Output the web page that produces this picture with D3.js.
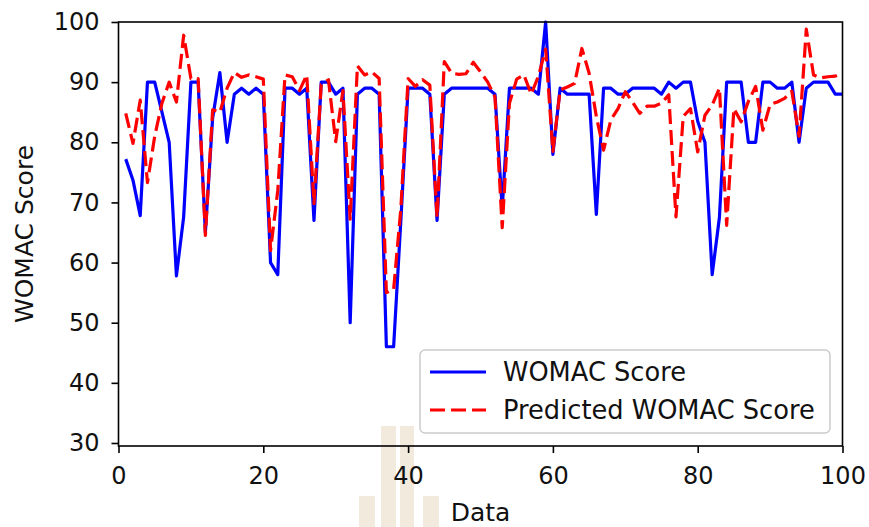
<!DOCTYPE html>
<html><head><meta charset="utf-8">
<script src="https://cdn.jsdelivr.net/npm/d3@7"></script>
<style>body{margin:0;background:#fff} svg{display:block}</style>
</head><body><svg id="chart" width="869" height="527"></svg>
<script>
// ---- data ----
const xTicks = [0, 20, 40, 60, 80, 100];
const yTicks = [30, 40, 50, 60, 70, 80, 90, 100];
const seriesNames = ["WOMAC Score", "Predicted WOMAC Score"];
const womac = [
  77.2, 73.7, 67.8, 90, 90, 85, 80, 57.8, 67.6, 90,
  90, 65, 84, 91.6, 80, 88, 89, 88, 89, 88,
  60, 58, 89, 89, 88, 89, 67, 90, 90, 88,
  89, 50, 88, 89, 89, 88, 46, 46, 67, 89,
  89, 89, 88, 67, 88, 89, 89, 89, 89, 89,
  89, 88, 69, 89, 89, 89, 89, 88, 100, 78,
  89, 88, 88, 88, 88, 68, 89, 89, 88, 88,
  89, 89, 89, 89, 88, 90, 89, 90, 90, 83.5,
  80, 58, 67.5, 90, 90, 90, 80, 80, 90, 90,
  89, 89, 90, 80, 89, 90, 90, 90, 88, 88
];
const predicted = [
  84.8, 79.8, 87, 73.3, 81, 86.5, 90, 86.7, 97.8, 90.6,
  90.6, 64.5, 85.4, 85, 89, 91.6, 90.8, 91.2, 90.9, 90.5,
  62, 72, 91.2, 90.9, 88.6, 91.2, 69.8, 89.6, 90.4, 80.1,
  88.6, 67.2, 92.7, 91.2, 91.7, 90.6, 55, 55.5, 69, 90.6,
  89.3, 90.4, 89.5, 67.5, 93.4, 91.5, 91.3, 91.4, 93.3, 91.7,
  90, 87.5, 65.8, 86.5, 90.5, 91.2, 88, 91, 95.5, 78.5,
  88.7, 89.2, 89.8, 95.6, 91.5, 84.3, 78.7, 83.7, 85.6, 88.4,
  86.7, 84.8, 86, 86, 86.5, 87.9, 67.6, 84.3, 85.6, 78.4,
  84.5, 86.2, 89, 66.2, 85.6, 83.4, 86.8, 89.3, 82, 86.3,
  86.7, 87.3, 88.5, 81, 98.8, 91.2, 90.7, 90.9, 91, 91.5
];
const dataIndex = d3.range(1, womac.length + 1);

// ---- layout ----
const L = 118.5, R = 842.5, T = 22, B = 446;
const FONT = "'DejaVu Sans', sans-serif";
const svg = d3.select("#chart");

const x = d3.scaleLinear().domain([0, 100]).range([L, R]);
const y = d3.scaleLinear().domain([29.5, 100]).range([B, T]);

// faint watermark behind the chart
const wm = svg.append("g").attr("fill", "#f2eadc");
wm.append("rect").attr("x", 381).attr("y", 426).attr("width", 15).attr("height", 101);
wm.append("rect").attr("x", 400).attr("y", 426).attr("width", 14).attr("height", 101);
wm.append("rect").attr("x", 359).attr("y", 496).attr("width", 16).attr("height", 31);
wm.append("rect").attr("x", 423).attr("y", 496).attr("width", 16).attr("height", 31);

// lines
const line = d3.line().x((d, i) => x(dataIndex[i])).y(d => y(d));
svg.append("path").datum(womac).attr("d", line)
  .attr("fill", "none").attr("stroke", "#0000ff").attr("stroke-width", 3.2)
  .attr("stroke-linejoin", "round");
svg.append("path").datum(predicted).attr("d", line)
  .attr("fill", "none").attr("stroke", "#ff0000").attr("stroke-width", 3.2)
  .attr("stroke-dasharray", "15,6").attr("stroke-linejoin", "round");

// axes
const xAxis = svg.append("g").attr("transform", `translate(0,${B})`)
  .call(d3.axisBottom(x).tickValues(xTicks).tickSize(7).tickPadding(14).tickFormat(d3.format("d")));
const yAxis = svg.append("g").attr("transform", `translate(${L},0)`)
  .call(d3.axisLeft(y).tickValues(yTicks).tickSize(7).tickPadding(12).tickFormat(d3.format("d")));
[xAxis, yAxis].forEach(g => {
  g.select(".domain").remove();
  g.selectAll("line").attr("stroke", "#000").attr("stroke-width", 1.6);
  g.selectAll("text").attr("font-family", FONT).attr("font-size", 24).attr("fill", "#111");
});

// frame
svg.append("rect").attr("x", L).attr("y", T).attr("width", R - L).attr("height", B - T)
  .attr("fill", "none").attr("stroke", "#000").attr("stroke-width", 1.6);

// axis labels
svg.append("text").attr("x", (L + R) / 2).attr("y", 521).attr("text-anchor", "middle")
  .attr("font-family", FONT).attr("font-size", 25).attr("fill", "#111").text("Data");
svg.append("text").attr("transform", `translate(33,${(T + B) / 2}) rotate(-90)`)
  .attr("text-anchor", "middle").attr("font-family", FONT).attr("font-size", 25)
  .attr("fill", "#111").text("WOMAC Score");

// legend
const lg = svg.append("g");
lg.append("rect").attr("x", 420).attr("y", 350).attr("width", 410).attr("height", 83)
  .attr("rx", 5).attr("fill", "#fff").attr("fill-opacity", 0.85)
  .attr("stroke", "#cccccc").attr("stroke-width", 1.5);
const legendItems = [
  {name: seriesNames[0], color: "#0000ff", dash: null, yy: 372},
  {name: seriesNames[1], color: "#ff0000", dash: "15,6", yy: 410}
];
legendItems.forEach(it => {
  lg.append("line").attr("x1", 430).attr("x2", 486).attr("y1", it.yy).attr("y2", it.yy)
    .attr("stroke", it.color).attr("stroke-width", 3.2).attr("stroke-dasharray", it.dash);
  lg.append("text").attr("x", 503).attr("y", it.yy + 9).attr("font-family", FONT)
    .attr("font-size", 25.7).attr("fill", "#111").text(it.name);
});
</script></body></html>
